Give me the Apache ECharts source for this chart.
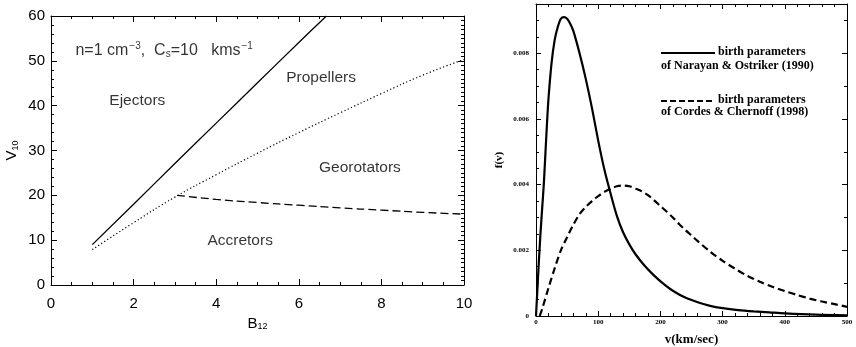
<!DOCTYPE html>
<html>
<head>
<meta charset="utf-8">
<script src="https://cdn.jsdelivr.net/npm/echarts@6/dist/echarts.min.js"></script>
<style>
  html, body { margin: 0; padding: 0; background: #fff; }
  #chart { width: 856px; height: 347px; }
</style>
</head>
<body>
<div id="chart"></div>
<script>
// ---- Left panel: pulsar evolutionary stages in the (B12, V10) plane ----
const ejectorLineB   = [1, 2, 3, 4, 5, 6, 6.67];
const ejectorLineV   = [9.0, 18.0, 27.1, 36.1, 45.1, 54.1, 60.0];
const propellerLineB = [1, 2, 3, 4, 5, 6, 7, 8, 9, 10];
const propellerLineV = [7.9, 13.9, 19.6, 24.6, 29.4, 34.0, 38.4, 42.7, 46.8, 50.3];
const accretorLineB  = [3.05, 4, 5, 6, 7, 8, 9, 10];
const accretorLineV  = [20.0, 19.1, 18.4, 17.8, 17.2, 16.7, 16.2, 15.8];
const stageNames     = ['Ejectors', 'Propellers', 'Georotators', 'Accretors'];
const bTicks         = [0, 2, 4, 6, 8, 10];
const vTicks         = [0, 10, 20, 30, 40, 50, 60];

// ---- Right panel: birth velocity distributions f(v) ----
const naVel = [0, 2.5, 5, 7.5, 10, 12.5, 15, 17.5, 20, 25, 30, 35, 40, 45, 50, 55, 60, 70, 80, 90, 100, 110, 120, 130, 140, 150, 160, 175, 190, 205, 220, 240, 260, 280, 300, 325, 350, 375, 400, 450, 500];
const naF   = [0, 0.0009, 0.0018, 0.0026, 0.0033, 0.0040, 0.0049, 0.0058, 0.0066, 0.0077, 0.0084, 0.0088, 0.00905, 0.0091, 0.00905, 0.0089, 0.00868, 0.0080, 0.00722, 0.00633, 0.00534, 0.00445, 0.00372, 0.00305, 0.00255, 0.00218, 0.00188, 0.00152, 0.00123, 0.00098, 0.00077, 0.00056, 0.00042, 0.00031, 0.00024, 0.00018, 0.00014, 0.00011, 0.00008, 0.00004, 0.00002];
const ccVel = [6, 10, 20, 30, 40, 50, 60, 70, 80, 90, 100, 110, 120, 130, 140, 150, 160, 170, 180, 190, 200, 210, 220, 230, 240, 250, 260, 280, 300, 320, 340, 360, 380, 400, 420, 440, 460, 480, 500];
const ccF   = [0, 0.00022, 0.00085, 0.00145, 0.0020, 0.0024, 0.00278, 0.0031, 0.00332, 0.0035, 0.00365, 0.00378, 0.00388, 0.00395, 0.00397, 0.00395, 0.00388, 0.0038, 0.00368, 0.00352, 0.00335, 0.00318, 0.0030, 0.0028, 0.00262, 0.00245, 0.00228, 0.00196, 0.00168, 0.00144, 0.00122, 0.00104, 0.00089, 0.00076, 0.00064, 0.00053, 0.00044, 0.00036, 0.00028];
const vAxisTicks = [0, 100, 200, 300, 400, 500];
const fAxisTicks = [0, 0.002, 0.004, 0.006, 0.008];

const zip = (xs, ys) => xs.map((x, i) => [x, ys[i]]);

const sans  = 'Liberation Sans';
const serif = 'Liberation Serif';
const hidden = { color: 'rgba(0,0,0,0)' };

// framed axis with inward major/minor ticks; labels only where requested
const ax = (len, split, o) => Object.assign({
  type: 'value',
  splitLine: { show: false },
  axisLine: { show: true, onZero: false, lineStyle: { color: '#000' } },
  axisTick: { show: true, inside: true, length: len, lineStyle: { color: '#000', width: 1 } },
  minorTick: { show: true, splitNumber: split, length: Math.round(len / 2), lineStyle: { color: '#000' } },
  axisLabel: { show: false }
}, o);

const chart = echarts.init(document.getElementById('chart'));

chart.setOption({
  animation: false,
  grid: [
    { left: 51, top: 16, width: 413, height: 269, outerBoundsMode: 'none' },
    { left: 536, top: 4, width: 311, height: 312, outerBoundsMode: 'none' }
  ],
  xAxis: [
    ax(6, 4, {
      gridIndex: 0, position: 'bottom', min: bTicks[0], max: bTicks[bTicks.length - 1], interval: 2,
      axisLabel: { show: true, margin: 11, color: '#000', fontFamily: sans, fontSize: 15 },
      name: '{b|B}{s|12}', nameLocation: 'middle', nameGap: 27,
      nameTextStyle: { rich: {
        b: { fontFamily: sans, fontSize: 15, color: '#000' },
        s: { fontFamily: sans, fontSize: 9, color: '#000', padding: [7, 0, 0, 0] }
      } }
    }),
    ax(6, 4, { gridIndex: 0, position: 'top', min: 0, max: 10, interval: 2 }),
    ax(5, 5, {
      gridIndex: 1, position: 'bottom', min: vAxisTicks[0], max: vAxisTicks[vAxisTicks.length - 1], interval: 100,
      axisLabel: { show: true, margin: 3, color: '#000', fontFamily: serif, fontWeight: 'bold', fontSize: 7 },
      name: 'v(km/sec)', nameLocation: 'middle', nameGap: 17,
      nameTextStyle: { fontFamily: serif, fontWeight: 'bold', fontSize: 13, color: '#000' }
    }),
    ax(5, 5, { gridIndex: 1, position: 'top', min: 0, max: 500, interval: 100 })
  ],
  yAxis: [
    ax(6, 5, {
      gridIndex: 0, position: 'left', min: vTicks[0], max: vTicks[vTicks.length - 1], interval: 10,
      axisLabel: { show: true, margin: 6, color: '#000', fontFamily: sans, fontSize: 15 },
      name: '{b|V}{s|10}', nameLocation: 'middle', nameGap: 31, nameRotate: 90,
      nameTextStyle: { rich: {
        b: { fontFamily: sans, fontSize: 15, color: '#000' },
        s: { fontFamily: sans, fontSize: 9, color: '#000', padding: [7, 0, 0, 0] }
      } }
    }),
    ax(6, 10, { gridIndex: 0, position: 'right', min: 0, max: 60, interval: 10 }),
    ax(5, 4, {
      gridIndex: 1, position: 'left', min: fAxisTicks[0], max: 0.0095, interval: 0.002,
      axisLabel: { show: true, margin: 7, color: '#000', fontFamily: serif, fontWeight: 'bold', fontSize: 7,
        showMaxLabel: false, formatter: v => (v === 0 ? '0' : v.toFixed(3)) },
      name: 'f(v)', nameLocation: 'middle', nameGap: 31, nameRotate: 90,
      nameTextStyle: { fontFamily: serif, fontWeight: 'bold', fontSize: 11, color: '#000' }
    }),
    ax(5, 2, { gridIndex: 1, position: 'right', min: 0, max: 0.0095, interval: 0.002 })
  ],
  series: [
    {
      name: 'ejector/propeller', type: 'line', xAxisIndex: 0, yAxisIndex: 0,
      data: zip(ejectorLineB, ejectorLineV), showSymbol: false, smooth: true,
      lineStyle: { color: '#000', width: 1.3, type: 'solid' }
    },
    {
      name: 'propeller/georotator', type: 'line', xAxisIndex: 0, yAxisIndex: 0,
      data: zip(propellerLineB, propellerLineV), showSymbol: false, smooth: true,
      lineStyle: { color: '#000', width: 1.2, type: [1.2, 2.4] }
    },
    {
      name: 'georotator/accretor', type: 'line', xAxisIndex: 0, yAxisIndex: 0,
      data: zip(accretorLineB, accretorLineV), showSymbol: false, smooth: true,
      lineStyle: { color: '#000', width: 1.3, type: [8, 4] }
    },
    {
      // stage names placed inside their regions
      name: 'stages', type: 'scatter', xAxisIndex: 0, yAxisIndex: 0, symbolSize: 1,
      itemStyle: hidden,
      data: [
        { value: [2.09, 41.2], name: stageNames[0] },
        { value: [6.54, 46.3], name: stageNames[1] },
        { value: [7.48, 26.2], name: stageNames[2] },
        { value: [4.58, 9.9],  name: stageNames[3] }
      ],
      label: { show: true, position: 'inside', formatter: p => p.name,
        fontFamily: sans, fontSize: 15.5, color: '#000' },
      silent: true
    },
    {
      name: 'conditions', type: 'scatter', xAxisIndex: 0, yAxisIndex: 0, symbolSize: 1,
      itemStyle: hidden,
      data: [{ value: [0.58, 52.2] }],
      label: { show: true, position: 'right', distance: 0,
        formatter: '{t|n=1 cm}{sup|−3}{t|,  C}{sub|s}{t|=10   kms}{sup|−1}',
        rich: {
          t:   { fontFamily: sans, fontSize: 16, color: '#000' },
          sup: { fontFamily: sans, fontSize: 10, color: '#000', padding: [0, 0, 10, 1] },
          sub: { fontFamily: sans, fontSize: 10, color: '#000', padding: [7, 0, 0, 0] }
        } },
      silent: true
    },
    {
      name: 'Narayan & Ostriker (1990)', type: 'line', xAxisIndex: 2, yAxisIndex: 2,
      data: zip(naVel, naF), showSymbol: false, smooth: 0.3,
      lineStyle: { color: '#000', width: 2.2, type: 'solid' }
    },
    {
      name: 'Cordes & Chernoff (1998)', type: 'line', xAxisIndex: 2, yAxisIndex: 2,
      data: zip(ccVel, ccF), showSymbol: false, smooth: 0.3,
      lineStyle: { color: '#000', width: 2.2, type: [7, 4] }
    }
  ],
  graphic: [
    // key for the two velocity distributions
    { type: 'line', shape: { x1: 661, y1: 53, x2: 715, y2: 53 }, style: { stroke: '#000', lineWidth: 2 } },
    { type: 'text', left: 718, top: 46, style: { text: 'birth parameters', font: 'bold 12px "Liberation Serif"', fill: '#000' } },
    { type: 'text', left: 661, top: 60, style: { text: 'of Narayan & Ostriker (1990)', font: 'bold 12px "Liberation Serif"', fill: '#000' } },
    { type: 'line', shape: { x1: 661, y1: 101, x2: 715, y2: 101 }, style: { stroke: '#000', lineWidth: 2, lineDash: [6, 3] } },
    { type: 'text', left: 718, top: 94, style: { text: 'birth parameters', font: 'bold 12px "Liberation Serif"', fill: '#000' } },
    { type: 'text', left: 661, top: 106, style: { text: 'of Cordes & Chernoff (1998)', font: 'bold 12px "Liberation Serif"', fill: '#000' } }
  ]
});
</script>
</body>
</html>
